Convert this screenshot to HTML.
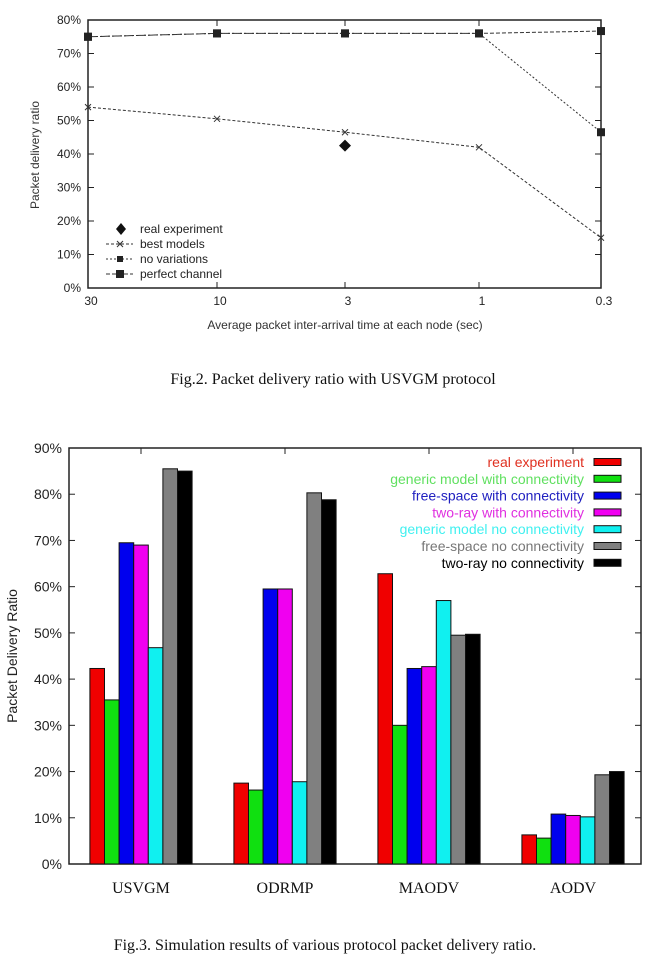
<!DOCTYPE html>
<html><head><meta charset="utf-8"><style>
html,body{margin:0;padding:0;background:#fff;}
svg{display:block;}
</style></head><body>
<svg id="s" width="665" height="960" xmlns="http://www.w3.org/2000/svg" font-family="Liberation Sans, sans-serif">
<rect width="665" height="960" fill="#fff"/>
</svg>
<script>
const s=document.getElementById('s');let h='';
// ---- top chart
const L=88,R=601,T=20,B=288;
const yv=v=>B-v/80*(B-T);
h+=`<rect x="${L}" y="${T}" width="${R-L}" height="${B-T}" fill="none" stroke="#222" stroke-width="1.5"/>`;
for(let i=0;i<=8;i++){const y=yv(i*10);h+=`<line x1="${L}" x2="${L+6}" y1="${y}" y2="${y}" stroke="#222"/><line x1="${R-6}" x2="${R}" y1="${y}" y2="${y}" stroke="#222"/><text x="${L-7}" y="${y+4}" font-size="12" text-anchor="end" fill="#222">${i*10}%</text>`;}
const xs=[88,217,345,479,601],xl=['30','10','3','1','0.3'];
xs.forEach((x,i)=>{h+=`<line x1="${x}" x2="${x}" y1="${B}" y2="${B-6}" stroke="#222"/><line x1="${x}" x2="${x}" y1="${T}" y2="${T+6}" stroke="#222"/><text x="${x+3}" y="${B+17}" font-size="12" text-anchor="middle" fill="#222">${xl[i]}</text>`;});
h+=`<text x="345" y="329" font-size="12" text-anchor="middle" fill="#333">Average packet inter-arrival time at each node (sec)</text>`;
h+=`<text transform="translate(39,155) rotate(-90)" font-size="12" text-anchor="middle" fill="#333">Packet delivery ratio</text>`;
function line(vals,dash,mk){let p=vals.map((v,i)=>`${xs[i]},${yv(v)}`).join(' ');h+=`<polyline points="${p}" fill="none" stroke="#333" stroke-width="1" stroke-dasharray="${dash}"/>`;vals.forEach((v,i)=>h+=mk(xs[i],yv(v)));}
const xm=(x,y)=>`<path d="M${x-3},${y-3}L${x+3},${y+3}M${x-3},${y+3}L${x+3},${y-3}" stroke="#333"/>`;
const sq=(x,y)=>`<rect x="${x-4}" y="${y-4}" width="8" height="8" fill="#222"/>`;
line([54,50.5,46.5,42,15],'3,2',xm);
line([75,76,76,76,46.5],'2,2',sq);
line([75,76,76,76,76.7],'4,2',sq);
h+=`<path d="M345,${yv(42.5)-6}L351,${yv(42.5)}L345,${yv(42.5)+6}L339,${yv(42.5)}Z" fill="#111"/>`;
const lg=[['real experiment'],['best models'],['no variations'],['perfect channel']];
lg.forEach((l,i)=>{const y=229+i*15;h+=`<text x="140" y="${y+4}" font-size="12" fill="#222">${l[0]}</text>`;});
h+=`<path d="M121,223L126,229L121,235L116,229Z" fill="#111"/>`;
h+=`<line x1="106" x2="133" y1="244" y2="244" stroke="#333" stroke-dasharray="3,2"/>`+xm(120,244);
h+=`<line x1="106" x2="133" y1="259" y2="259" stroke="#333" stroke-dasharray="2,2"/>`+`<rect x="117" y="256" width="6" height="6" fill="#222"/>`;
h+=`<line x1="106" x2="133" y1="274" y2="274" stroke="#333" stroke-dasharray="4,2"/>`+sq(120,274);
h+=`<text x="333" y="384" font-size="16" font-family="Liberation Serif, serif" text-anchor="middle" fill="#111">Fig.2. Packet delivery ratio with USVGM protocol</text>`;
// ---- bottom chart
const L2=69,R2=641,T2=448,B2=864;
const y2=v=>B2-v/90*(B2-T2);
h+=`<rect x="${L2}" y="${T2}" width="${R2-L2}" height="${B2-T2}" fill="none" stroke="#222" stroke-width="1.5"/>`;
for(let i=0;i<=9;i++){const y=y2(i*10);h+=`<line x1="${L2}" x2="${L2+6}" y1="${y}" y2="${y}" stroke="#222"/><line x1="${R2-6}" x2="${R2}" y1="${y}" y2="${y}" stroke="#222"/><text x="${L2-7}" y="${y+5}" font-size="14" text-anchor="end" fill="#222">${i*10}%</text>`;}
h+=`<text transform="translate(17,656) rotate(-90)" font-size="14" text-anchor="middle" fill="#222">Packet Delivery Ratio</text>`;
const cols=['#f00000','#10e010','#0000ee','#f000f0','#10f0f0','#808080','#000'];
const data=[[42.3,35.5,69.5,69,46.8,85.5,85],[17.5,16,59.5,59.5,17.8,80.3,78.8],[62.8,30,42.3,42.7,57,49.5,49.7],[6.3,5.6,10.8,10.5,10.2,19.3,20]];
const names=['USVGM','ODRMP','MAODV','AODV'];const bw=14.6;
data.forEach((g,gi)=>{const c=141+gi*144;const x0=c-3.5*bw;
h+=`<line x1="${c}" x2="${c}" y1="${T2}" y2="${T2+6}" stroke="#222"/>`;
g.forEach((v,i)=>{h+=`<rect x="${x0+i*bw}" y="${y2(v)}" width="${bw}" height="${B2-y2(v)}" fill="${cols[i]}" stroke="#111" stroke-width="1"/>`;});
h+=`<text x="${c}" y="893" font-size="16" font-family="Liberation Serif, serif" text-anchor="middle" fill="#111">${names[gi]}</text>`;});
const ln=['real experiment','generic model with connectivity','free-space with connectivity','two-ray with connectivity','generic model no connectivity','free-space no connectivity','two-ray no connectivity'];
const lc=['#e03020','#60e060','#2020c0','#e030e0','#40f0f0','#777','#000'];
ln.forEach((t,i)=>{const y=462+i*16.8;h+=`<text x="584" y="${y+5}" font-size="14" text-anchor="end" fill="${lc[i]}">${t}</text><rect x="594" y="${y-3.5}" width="27" height="7" fill="${cols[i]}" stroke="#111"/>`;});
h+=`<text x="325" y="950" font-size="16" font-family="Liberation Serif, serif" text-anchor="middle" fill="#111">Fig.3. Simulation results of various protocol packet delivery ratio.</text>`;
s.innerHTML+=h;
</script>
</body></html>
